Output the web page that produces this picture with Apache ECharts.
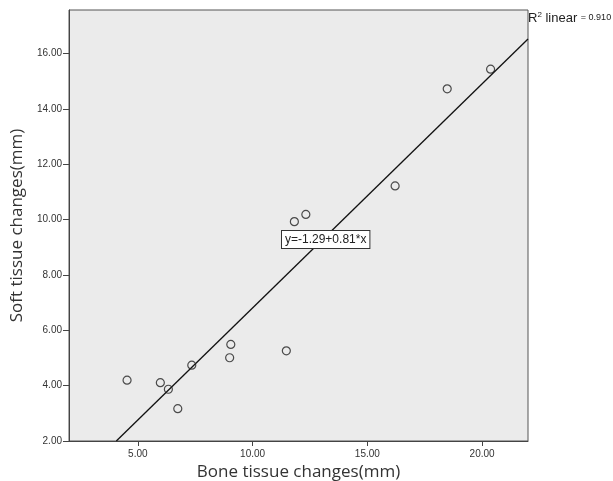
<!DOCTYPE html>
<html>
<head>
<meta charset="utf-8">
<script src="https://cdn.jsdelivr.net/npm/echarts@6/dist/echarts.min.js"></script>
<style>html,body{margin:0;padding:0;background:#fff}#c{width:613px;height:481px}</style>
</head>
<body>
<div id="c"></div>
<script>
const boneX = [4.53, 5.98, 6.33, 6.74, 7.35, 9.00, 9.05, 11.47, 11.82, 12.32, 16.21, 18.48, 20.37];
const softY = [4.20, 4.11, 3.87, 3.17, 4.74, 5.01, 5.49, 5.26, 9.93, 10.19, 11.22, 14.73, 15.44];
const xTicks = [5, 10, 15, 20];
const yTicks = [2, 4, 6, 8, 10, 12, 14, 16];
const fitIntercept = -1.29;
const fitSlope = 0.81;
const r2 = '0.910';

const xMin = 2, xMax = 22, yMin = 2, yMax = 17.58;
const lineStart = [(yMin - fitIntercept) / fitSlope, yMin];
const lineEnd = [xMax, fitIntercept + fitSlope * xMax];

const chart = echarts.init(document.getElementById('c'), null, {renderer: 'canvas'});
const labelFont = {fontFamily: 'Liberation Sans, Arial', fontSize: 10, color: '#333'};
chart.setOption({
  animation: false,
  grid: {left: 69, top: 10, right: 85, bottom: 40, outerBoundsMode: 'none', containLabel: false, show: true, backgroundColor: '#ebebeb', borderColor: '#555', borderWidth: 1},
  xAxis: {
    type: 'value', min: xMin, max: xMax,
    name: 'Bone tissue changes(mm)', nameLocation: 'middle', nameGap: 19,
    nameTextStyle: {fontFamily: 'Open Sans', fontSize: 17, color: '#333'},
    axisLine: {show: true, lineStyle: {color: '#444', width: 1}},
    axisTick: {show: true, length: 5, customValues: xTicks, lineStyle: {color: '#444'}},
    axisLabel: Object.assign({customValues: xTicks, margin: 8, formatter: v => v.toFixed(2)}, labelFont),
    splitLine: {show: false}
  },
  yAxis: {
    type: 'value', min: yMin, max: yMax,
    name: 'Soft tissue changes(mm)', nameLocation: 'middle', nameGap: 42,
    nameTextStyle: {fontFamily: 'Open Sans', fontSize: 17, color: '#333'},
    axisLine: {show: true, lineStyle: {color: '#444', width: 1}},
    axisTick: {show: true, length: 6, customValues: yTicks, lineStyle: {color: '#444'}},
    axisLabel: Object.assign({customValues: yTicks, margin: 7, formatter: v => v.toFixed(2)}, labelFont),
    splitLine: {show: false}
  },
  series: [
    {
      type: 'line',
      data: [lineStart, lineEnd],
      symbol: 'none',
      lineStyle: {color: '#111', width: 1.3},
      z: 2
    },
    {
      type: 'scatter',
      data: boneX.map((x, i) => [x, softY[i]]),
      symbol: 'circle', symbolSize: 8,
      itemStyle: {color: 'rgba(0,0,0,0)', borderColor: '#222', borderWidth: 1.2},
      z: 3
    }
  ],
  graphic: [
    {
      type: 'text', left: 528, top: 11, z: 10,
      style: {
        text: '{r|R}{s|2}{r| linear }{v|= ' + r2 + '}',
        rich: {
          r: {fontFamily: 'Liberation Sans, Arial', fontSize: 13, fill: '#222'},
          s: {fontFamily: 'Liberation Sans, Arial', fontSize: 8, fill: '#222', verticalAlign: 'top', padding: [0,0,6,0]},
          v: {fontFamily: 'Liberation Sans, Arial', fontSize: 9, fill: '#222'}
        }
      }
    },
    {
      type: 'text', left: 281, top: 230, z: 10,
      style: {
        text: 'y=' + fitIntercept.toFixed(2) + '+' + fitSlope.toFixed(2) + '*x',
        fontFamily: 'Liberation Sans, Arial', fontSize: 12, fill: '#222',
        backgroundColor: '#fff', borderColor: '#333', borderWidth: 1, padding: [3, 3, 2, 3]
      }
    }
  ]
});
</script>
</body>
</html>
